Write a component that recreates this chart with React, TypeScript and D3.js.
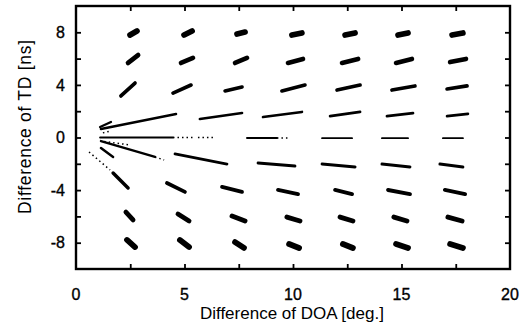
import React, { useEffect, useRef } from 'react';
import * as d3 from 'd3';

// axis labels
const xLabels = [0, 5, 10, 15, 20];
const yLabels = [8, 4, 0, -4, -8];
const xTickVals = [2.5, 5, 7.5, 10, 12.5, 15, 17.5];
const yTickVals = [-8, -6, -4, -2, 0, 2, 4, 6, 8];

// streaks [DOA start, TD start, DOA end, TD end]
const row8 = [
    [2.49, 7.79, 2.81, 8.1], [4.98, 7.79, 5.35, 8.1], [7.42, 7.87, 7.79, 8.02], [9.95, 7.79, 10.41, 7.95],
    [12.4, 7.79, 12.86, 7.95], [14.84, 7.79, 15.3, 7.95], [17.33, 7.79, 17.83, 7.95]
];
const row6 = [
    [2.4, 5.67, 2.86, 6.27], [4.84, 5.67, 5.39, 6.05], [7.33, 5.67, 7.88, 6.05], [9.77, 5.67, 10.46, 5.97],
    [12.26, 5.67, 13.0, 5.97], [14.75, 5.67, 15.48, 5.97], [17.24, 5.74, 17.97, 5.97]
];
const row4 = [
    [2.07, 3.16, 2.72, 4.14], [4.47, 3.38, 5.3, 3.99], [6.87, 3.54, 7.65, 3.84], [9.49, 3.54, 10.55, 3.99],
    [12.03, 3.61, 13.09, 3.99], [14.56, 3.61, 15.62, 3.92], [17.1, 3.69, 18.02, 3.92]
];
const row2 = [
    [1.11, 0.8, 1.61, 1.18], [1.15, 0.65, 4.61, 1.79], [5.71, 1.41, 7.65, 1.86], [8.62, 1.56, 10.41, 1.94],
    [11.71, 1.63, 13.09, 1.94], [14.33, 1.63, 15.53, 1.86], [17.1, 1.63, 18.06, 1.79]
];
const row0 = [
    [1.11, 0, 4.47, 0], [7.88, -0.04, 9.26, -0.04], [11.34, -0.05, 12.72, -0.05],
    [14.1, -0.05, 15.3, -0.05], [16.91, -0.05, 17.83, -0.05]
];
const rowM2 = [
    [1.15, -0.8, 1.71, -1.48], [1.15, -0.27, 3.64, -1.48], [4.56, -1.25, 6.96, -2.02], [8.39, -1.94, 10.09, -2.17],
    [11.34, -2.02, 12.86, -2.24], [14.1, -2.02, 15.39, -2.24], [16.77, -2.02, 17.83, -2.24]
];
const rowM4 = [
    [1.71, -2.7, 2.4, -3.84], [4.19, -3.46, 5.02, -4.14], [6.73, -3.76, 7.65, -4.14], [9.31, -3.99, 10.23, -4.3],
    [11.94, -3.99, 12.72, -4.3], [14.38, -3.99, 15.39, -4.3], [17.0, -3.99, 17.93, -4.3]
];
const rowM6 = [
    [2.3, -5.67, 2.63, -6.27], [4.7, -5.82, 5.21, -6.35], [7.19, -5.97, 7.79, -6.35], [9.72, -6.05, 10.32, -6.35],
    [12.17, -6.05, 12.76, -6.35], [14.65, -6.05, 15.25, -6.35], [17.14, -6.05, 17.79, -6.35]
];
const rowM8 = [
    [2.35, -7.79, 2.72, -8.33], [4.79, -7.79, 5.21, -8.33], [7.33, -7.95, 7.74, -8.4], [9.82, -8.1, 10.28, -8.4],
    [12.3, -8.1, 12.76, -8.4], [14.75, -8.1, 15.3, -8.4], [17.24, -8.1, 17.83, -8.4]
];
// faint dotted tails
const tails = [
    [4.47, 0, 5.44, 0], [5.62, 0, 6.41, 0], [9.26, -0.04, 9.86, -0.04], [3.64, -1.48, 4.06, -1.71],
    [0.6, -1.1, 1.57, -2.47], [1.24, 0.35, 1.6, 0.5], [1.3, -0.3, 2.4, -0.55]
];

const font = 'Liberation Sans, Arial, Helvetica, sans-serif';

const App = () => {
    const ref = useRef<SVGSVGElement>(null);

    useEffect(() => {
        const svg = d3.select(ref.current);
        svg.selectAll('*').remove();

        const margin = { top: 6, right: 21, bottom: 67, left: 76 };
        const width = 531 - margin.left - margin.right;
        const height = 336 - margin.top - margin.bottom;

        const x = d3.scaleLinear().domain([0, 20]).range([0, width]);
        const y = d3.scaleLinear().domain([-10, 10]).range([height, 0]);

        const graph = svg.append('g').attr('transform', `translate(${margin.left}, ${margin.top})`);

        // inward ticks on all four sides
        const tick = 5;
        const sides = [
            { axis: d3.axisBottom(x).tickValues(xTickVals), t: `translate(0,${height})` },
            { axis: d3.axisTop(x).tickValues(xTickVals), t: 'translate(0,0)' },
            { axis: d3.axisLeft(y).tickValues(yTickVals), t: 'translate(0,0)' },
            { axis: d3.axisRight(y).tickValues(yTickVals), t: `translate(${width},0)` }
        ];
        sides.forEach(s => {
            const g = graph.append('g').attr('transform', s.t)
                .call(s.axis.tickSize(-tick).tickFormat(() => ''));
            g.select('.domain').remove();
            g.selectAll('line').attr('stroke', '#000').attr('stroke-width', 1.8);
        });

        graph.append('rect')
            .attr('width', width).attr('height', height)
            .attr('fill', 'none').attr('stroke', '#000').attr('stroke-width', 2.4);

        // tick labels
        graph.selectAll('.xl').data(xLabels).enter().append('text')
            .attr('x', d => x(d)).attr('y', height + 31)
            .attr('text-anchor', 'middle')
            .attr('font-family', font)
            .attr('font-size', 16).attr('fill', '#000')
            .attr('stroke', '#000').attr('stroke-width', 0.35)
            .text(d => d);

        graph.selectAll('.yl').data(yLabels).enter().append('text')
            .attr('x', -11).attr('y', d => y(d)).attr('dy', '0.36em')
            .attr('text-anchor', 'end')
            .attr('font-family', font)
            .attr('font-size', 16).attr('fill', '#000')
            .attr('stroke', '#000').attr('stroke-width', 0.35)
            .text(d => d);

        // axis titles
        svg.append('text')
            .attr('x', margin.left + x(9.95)).attr('y', 319)
            .attr('text-anchor', 'middle')
            .attr('font-family', font)
            .attr('font-size', 17).attr('fill', '#000')
            .text('Difference of DOA [deg.]');

        svg.append('text')
            .attr('transform', `translate(31, ${margin.top + y(0.8)}) rotate(-90)`)
            .attr('text-anchor', 'middle')
            .attr('font-family', font)
            .attr('font-size', 17.5).attr('fill', '#000')
            .attr('textLength', 174).attr('lengthAdjust', 'spacing')
            .text('Difference of TD [ns]');

        // streaks
        const streaks = [...row8, ...row6, ...row4, ...row2, ...row0, ...rowM2, ...rowM4, ...rowM6, ...rowM8];
        const thick = (d: number[]) => Math.min(5.8, 1.9 + 0.48 * Math.abs((d[1] + d[3]) / 2));

        graph.selectAll('.streak').data(streaks).enter().append('line')
            .attr('x1', d => x(d[0])).attr('y1', d => y(d[1]))
            .attr('x2', d => x(d[2])).attr('y2', d => y(d[3]))
            .attr('stroke', '#000')
            .attr('stroke-width', d => thick(d))
            .attr('stroke-linecap', 'round');

        graph.selectAll('.tail').data(tails).enter().append('line')
            .attr('x1', d => x(d[0])).attr('y1', d => y(d[1]))
            .attr('x2', d => x(d[2])).attr('y2', d => y(d[3]))
            .attr('stroke', '#000')
            .attr('stroke-width', 1.5)
            .attr('stroke-dasharray', '1.5 3');
    }, []);

    return (
        <div style={{ position: 'absolute', left: 0, top: 0 }}>
            <svg ref={ref} width={531} height={336} style={{ display: 'block', background: '#fff' }} />
        </div>
    );
};

export default App;
